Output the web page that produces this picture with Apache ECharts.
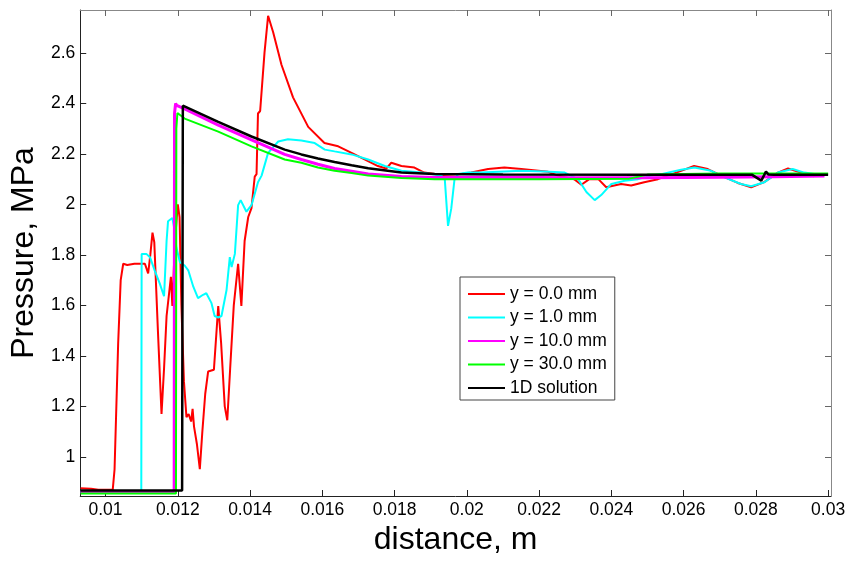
<!DOCTYPE html>
<html>
<head>
<meta charset="utf-8">
<script src="https://cdn.jsdelivr.net/npm/echarts@6/dist/echarts.min.js"></script>
<style>
html,body{margin:0;padding:0;background:#fff;}
#chart{width:849px;height:561px;}
</style>
</head>
<body>
<div id="chart"></div>
<script>
// ---------- data ----------
const seriesNames = ['y = 0.0 mm', 'y = 1.0 mm', 'y = 10.0 mm', 'y = 30.0 mm', '1D solution'];

const xTicks = [0.01, 0.012, 0.014, 0.016, 0.018, 0.02, 0.022, 0.024, 0.026, 0.028, 0.03];
const yTicks = [1, 1.2, 1.4, 1.6, 1.8, 2, 2.2, 2.4, 2.6];

const red = [
  [0.00931, 0.876], [0.00960, 0.874], [0.00980, 0.870], [0.01020, 0.870], [0.01025, 0.95],
  [0.01035, 1.45], [0.01042, 1.70], [0.01049, 1.765], [0.01060, 1.760], [0.01080, 1.765],
  [0.01109, 1.765], [0.01118, 1.727], [0.01124, 1.80], [0.01130, 1.888], [0.01135, 1.85],
  [0.01145, 1.50], [0.01155, 1.17], [0.01162, 1.35], [0.01169, 1.558], [0.01181, 1.713],
  [0.01185, 1.598], [0.01192, 1.85], [0.01200, 2.00], [0.01205, 1.95], [0.01210, 1.60],
  [0.01217, 1.30], [0.01224, 1.157], [0.01230, 1.17], [0.01237, 1.14], [0.01241, 1.19],
  [0.01245, 1.12], [0.01253, 1.05], [0.01261, 0.951], [0.01268, 1.10], [0.01276, 1.25],
  [0.01284, 1.338], [0.01300, 1.345], [0.01312, 1.597], [0.01320, 1.45], [0.01330, 1.20],
  [0.01337, 1.145], [0.01345, 1.35], [0.01355, 1.60], [0.01367, 1.765], [0.01376, 1.598],
  [0.01385, 1.855], [0.01395, 1.95], [0.01404, 1.985], [0.01413, 2.11], [0.01418, 2.12],
  [0.01422, 2.36], [0.01428, 2.37], [0.01440, 2.60], [0.01450, 2.747], [0.01464, 2.682],
  [0.01487, 2.553], [0.01519, 2.424], [0.01561, 2.307], [0.01606, 2.243], [0.01644, 2.230],
  [0.01681, 2.204], [0.01717, 2.178], [0.01754, 2.152], [0.01777, 2.142], [0.01791, 2.165],
  [0.01819, 2.152], [0.01855, 2.146], [0.01882, 2.126], [0.01930, 2.116], [0.01985, 2.120],
  [0.02012, 2.126], [0.02059, 2.140], [0.02104, 2.146], [0.02151, 2.140], [0.02225, 2.129],
  [0.02252, 2.114], [0.02297, 2.100], [0.02317, 2.078], [0.02339, 2.100], [0.02364, 2.100],
  [0.02386, 2.068], [0.02427, 2.081], [0.02455, 2.075], [0.02491, 2.088], [0.02529, 2.100],
  [0.02593, 2.133], [0.02629, 2.152], [0.02667, 2.140], [0.02704, 2.114], [0.02750, 2.085],
  [0.02787, 2.068], [0.02823, 2.088], [0.02861, 2.126], [0.02889, 2.142], [0.02925, 2.126],
  [0.02961, 2.111]
];

const cyan = [
  [0.00931, 0.862], [0.01099, 0.862], [0.01100, 1.804], [0.01113, 1.804], [0.01123, 1.791],
  [0.01136, 1.739], [0.01150, 1.687], [0.01162, 1.636], [0.01169, 1.855], [0.01173, 1.933],
  [0.01185, 1.946], [0.01190, 1.907], [0.01196, 1.830], [0.01206, 1.771], [0.01219, 1.758],
  [0.01229, 1.739], [0.01243, 1.674], [0.01256, 1.629], [0.01270, 1.642], [0.01279, 1.648],
  [0.01293, 1.610], [0.01302, 1.558], [0.01312, 1.552], [0.01321, 1.558], [0.01335, 1.661],
  [0.01344, 1.791], [0.01349, 1.752], [0.01358, 1.804], [0.01367, 1.997], [0.01374, 2.017],
  [0.01390, 1.971], [0.01404, 1.997], [0.01422, 2.088], [0.01432, 2.114], [0.01450, 2.204],
  [0.01478, 2.249], [0.01505, 2.258], [0.01542, 2.253], [0.01579, 2.243], [0.01607, 2.217],
  [0.01634, 2.210], [0.01681, 2.198], [0.01727, 2.178], [0.01773, 2.152], [0.01819, 2.133],
  [0.01874, 2.126], [0.01930, 2.114], [0.01939, 2.100], [0.01948, 1.915], [0.01957, 1.984],
  [0.01966, 2.100], [0.01976, 2.120], [0.02003, 2.126], [0.02040, 2.126], [0.02151, 2.133],
  [0.02215, 2.130], [0.02271, 2.126], [0.02308, 2.100], [0.02331, 2.049], [0.02354, 2.017],
  [0.02372, 2.037], [0.02400, 2.081], [0.02437, 2.094], [0.02474, 2.100], [0.02510, 2.114],
  [0.02538, 2.120], [0.02593, 2.137], [0.02630, 2.146], [0.02676, 2.133], [0.02713, 2.107],
  [0.02759, 2.081], [0.02787, 2.072], [0.02824, 2.088], [0.02861, 2.126], [0.02902, 2.140],
  [0.02934, 2.126], [0.02962, 2.120]
];

const magenta = [
  [0.00931, 0.861], [0.01190, 0.861], [0.01191, 2.36], [0.01194, 2.400], [0.01197, 2.392],
  [0.01219, 2.378], [0.01312, 2.314], [0.01404, 2.256], [0.01496, 2.198], [0.01542, 2.178],
  [0.01588, 2.159], [0.01634, 2.142], [0.01681, 2.131], [0.01727, 2.120], [0.01819, 2.111],
  [0.01911, 2.107], [0.02100, 2.108], [0.02300, 2.106], [0.02500, 2.106], [0.02700, 2.108],
  [0.02850, 2.110], [0.02990, 2.112]
];

const green = [
  [0.00931, 0.855], [0.01195, 0.855], [0.01196, 2.30], [0.01199, 2.362], [0.01219, 2.340],
  [0.01312, 2.288], [0.01404, 2.230], [0.01496, 2.178], [0.01542, 2.165], [0.01588, 2.146],
  [0.01634, 2.133], [0.01681, 2.124], [0.01727, 2.114], [0.01819, 2.105], [0.01911, 2.100],
  [0.02200, 2.100], [0.02450, 2.102], [0.02500, 2.118], [0.02700, 2.122], [0.03000, 2.122]
];

const black = [
  [0.00931, 0.867], [0.01212, 0.867], [0.01214, 2.391], [0.01312, 2.327], [0.01404, 2.269],
  [0.01496, 2.217], [0.01542, 2.198], [0.01588, 2.182], [0.01634, 2.168], [0.01681, 2.155],
  [0.01727, 2.143], [0.01819, 2.126], [0.01911, 2.120], [0.02100, 2.118], [0.02500, 2.117],
  [0.02790, 2.117], [0.02815, 2.094], [0.02828, 2.130], [0.02835, 2.118], [0.02840, 2.125],
  [0.02850, 2.117], [0.03000, 2.117]
];

// ---------- chart ----------
const X_MIN = 0.0093, X_MAX = 0.03008;
const Y_MIN = 0.845, Y_MAX = 2.77;
const FONT = 'Liberation Sans, Arial, sans-serif';

const chart = echarts.init(document.getElementById('chart'), null, {renderer: 'canvas'});

const colors = ['#ff0000', '#00ffff', '#ff00ff', '#00ff00', '#000000'];
const widths = [2, 2, 3, 2, 2.5];
const datas = [red, cyan, magenta, green, black];

function fmt(v, d) { return String(+(+v).toFixed(d)); }

const option = {
  animation: false,
  backgroundColor: '#ffffff',
  grid: {left: 79, right: 18, top: 10, bottom: 54},
  legend: {
    show: true,
    data: seriesNames.map((n, i) => ({name: n, icon: 'rect', itemStyle: {color: colors[i], borderWidth: 0}})),
    orient: 'vertical',
    left: 460, top: 277,
    backgroundColor: '#ffffff',
    borderColor: '#444',
    borderWidth: 1,
    borderRadius: 0,
    padding: [8, 8, 3, 8],
    itemWidth: 37, itemHeight: 2, itemGap: 5.5,
    textStyle: {fontFamily: FONT, fontSize: 17.5, color: '#000', height: 17.5, lineHeight: 17.5},
    selectedMode: false,
    z: 20
  },
  xAxis: [{
    type: 'value', min: X_MIN, max: X_MAX,
    name: 'distance, m', nameLocation: 'middle', nameGap: 28,
    nameTextStyle: {fontFamily: FONT, fontSize: 32, color: '#000'},
    axisLine: {show: true, onZero: false, lineStyle: {color: '#222', width: 1}},
    axisTick: {show: true, inside: true, length: 6, customValues: xTicks, lineStyle: {color: '#222'}},
    axisLabel: {customValues: xTicks, margin: 5, fontFamily: FONT, fontSize: 17.5, color: '#000',
      formatter: v => fmt(v, 3)},
    splitLine: {show: false}
  }, {
    type: 'value', min: X_MIN, max: X_MAX, position: 'top',
    axisLine: {show: true, onZero: false, lineStyle: {color: '#888', width: 1}},
    axisTick: {show: true, inside: true, length: 6, customValues: xTicks, lineStyle: {color: '#666'}},
    axisLabel: {show: false},
    splitLine: {show: false}
  }],
  yAxis: [{
    type: 'value', min: Y_MIN, max: Y_MAX,
    name: 'Pressure, MPa', nameLocation: 'middle', nameGap: 32,
    nameTextStyle: {fontFamily: FONT, fontSize: 32, color: '#000'},
    axisLine: {show: true, onZero: false, lineStyle: {color: '#222', width: 1}},
    axisTick: {show: true, inside: true, length: 6, customValues: yTicks, lineStyle: {color: '#222'}},
    axisLabel: {customValues: yTicks, margin: 5, fontFamily: FONT, fontSize: 17.5, color: '#000',
      formatter: v => fmt(v, 1)},
    splitLine: {show: false}
  }, {
    type: 'value', min: Y_MIN, max: Y_MAX, position: 'right',
    axisLine: {show: true, onZero: false, lineStyle: {color: '#888', width: 1}},
    axisTick: {show: true, inside: true, length: 6, customValues: yTicks, lineStyle: {color: '#666'}},
    axisLabel: {show: false},
    splitLine: {show: false}
  }],
  series: seriesNames.map((n, i) => ({
    name: n,
    type: 'line',
    xAxisIndex: 0, yAxisIndex: 0,
    data: datas[i],
    showSymbol: false, symbol: 'none',
    clip: true,
    color: colors[i],
    itemStyle: {color: colors[i]},
    lineStyle: {color: colors[i], width: widths[i]},
    z: 2 + i
  }))
};

chart.setOption(option);
</script>
</body>
</html>
